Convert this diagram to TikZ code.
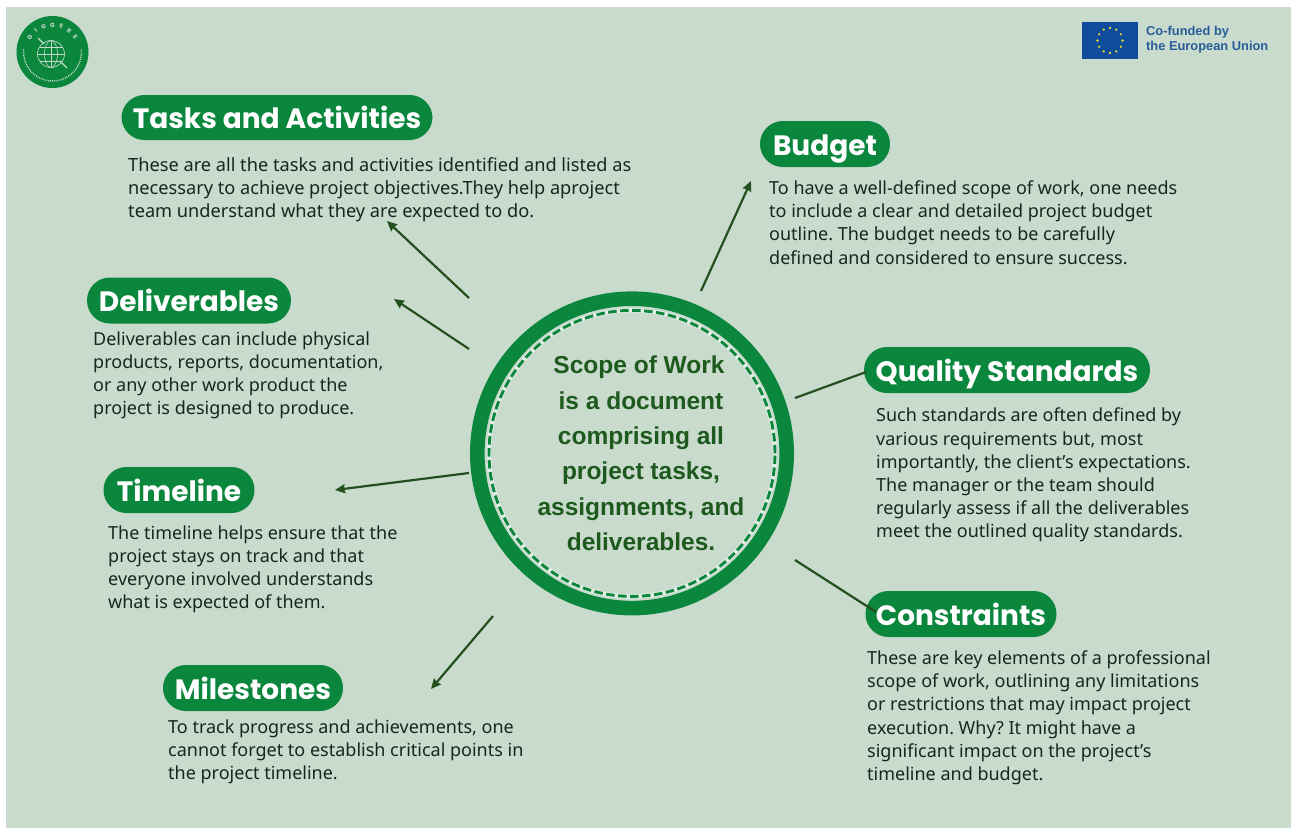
\documentclass[tikz,border=0pt]{standalone}
\usepackage{fontspec}
\setmainfont{Noto Sans}
\newfontfamily\headfont{Poppins}
\newfontfamily\centerfont{Liberation Sans}
\newfontfamily\eufont{Liberation Sans}
\usetikzlibrary{arrows.meta}
\frenchspacing
\definecolor{bgc}{HTML}{C8DBCD}
\definecolor{gr}{HTML}{0B873D}
\definecolor{dk}{HTML}{1E5A1E}
\definecolor{arr}{HTML}{24501F}
\definecolor{body}{HTML}{14281E}
\definecolor{eub}{HTML}{0F4C9E}
\definecolor{euy}{HTML}{E8D82A}
\definecolor{eut}{HTML}{2A5C9A}
\definecolor{halo}{HTML}{E2EDE4}
\tikzset{
 x=1pt,y=-1pt,
 pill/.style={fill=gr,rounded corners=22.9pt,text=white,inner sep=0pt,anchor=center,text height=22pt,text depth=0pt,font=\headfont\fontsize{28}{28}\selectfont\bfseries},
 txt/.style={anchor=north west,align=left,inner sep=0pt,text=body,font=\fontsize{18}{23.2}\selectfont},
 conn/.style={draw=arr,line width=2.2pt,-{Stealth[length=10pt,width=9pt,inset=1pt]}},
 plain/.style={draw=arr,line width=2.2pt}
}
\begin{document}
\begin{tikzpicture}
\useasboundingbox (0,0) rectangle (1291,828);
\fill[white] (0,0) rectangle (1291,828);
\fill[bgc] (6,7) rectangle (1291,828);
% centre
\node[circle,draw=gr,line width=14.6pt,minimum size=309.4pt,inner sep=0pt] (hub) at (632,453.4) {};
\node[circle,draw=halo,line width=4.4pt,minimum size=286pt,inner sep=0pt] (hubh) at (632,453.4) {};
\node[circle,draw=gr,line width=2.9pt,dash pattern=on 8.5pt off 3.5pt,minimum size=286pt,inner sep=0pt] (hubd) at (632,453.4) {};
\node[align=center,inner sep=0pt,text=dk,font=\centerfont\bfseries\fontsize{24.5}{35.4}\selectfont] (hubt) at (641,453.5) {Scope of Work\kern4pt\\is a document\\comprising all\\project tasks,\\assignments, and\\deliverables.};
% pills
\node[pill,minimum width=311pt,minimum height=45pt] (tasks) at (277,117.5) {Tasks and Activities};
\node[pill,minimum width=130pt,minimum height=46pt] (budget) at (825,144) {Budget};
\node[pill,minimum width=204pt,minimum height=46pt] (deliv) at (189,300.5) {Deliverables};
\node[pill,minimum width=286pt,minimum height=46pt] (quality) at (1007,370) {Quality Standards};
\node[pill,minimum width=151pt,minimum height=46pt] (time) at (179,490) {Timeline};
\node[pill,minimum width=191pt,minimum height=46pt] (cons) at (961,614) {Constraints};
\node[pill,minimum width=180pt,minimum height=46pt] (miles) at (253,688) {Milestones};
% texts
\node[txt,font=\fontsize{18.2}{23.2}\selectfont] (t1) at (128,157) {These are all the tasks and activities identified and listed as\\necessary to achieve project objectives.They help aproject\\team understand what they are expected to do.};
\node[txt] (t2) at (769,180.5) {To have a well-defined scope of work, one needs\\to include a clear and detailed project budget\\outline. The budget needs to be carefully\\defined and considered to ensure success.};
\node[txt] (t3) at (93,331.5) {Deliverables can include physical\\products, reports, documentation,\\or any other work product the\\project is designed to produce.};
\node[txt] (t4) at (876,408) {Such standards are often defined by\\various requirements but, most\\importantly, the client’s expectations.\\The manager or the team should\\regularly assess if all the deliverables\\meet the outlined quality standards.};
\node[txt] (t5) at (108,525.5) {The timeline helps ensure that the\\project stays on track and that\\everyone involved understands\\what is expected of them.};
\node[txt] (t6) at (867,650.5) {These are key elements of a professional\\scope of work, outlining any limitations\\or restrictions that may impact project\\execution. Why? It might have a\\significant impact on the project’s\\timeline and budget.};
\node[txt] (t7) at (168,719.5) {To track progress and achievements, one\\cannot forget to establish critical points in\\the project timeline.};
% connector ends
\coordinate (a1) at (469,298); \coordinate (b1) at (387,221);
\coordinate (a2) at (469,349); \coordinate (b2) at (394,299);
\coordinate (a3) at (469,473); \coordinate (b3) at (335,490);
\coordinate (a4) at (493,616); \coordinate (b4) at (431,689);
\coordinate (a5) at (701,291); \coordinate (b5) at (751,181);
\coordinate (a6) at (795,398); \coordinate (b6) at (866,372);
\coordinate (a7) at (795,560); \coordinate (b7) at (876,612);
\draw[conn] (a1) -- (b1);
\draw[conn] (a2) -- (b2);
\draw[conn] (a3) -- (b3);
\draw[conn] (a4) -- (b4);
\draw[conn] (a5) -- (b5);
\draw[plain] (a6) -- (b6);
\draw[plain] (a7) -- (b7);
% logo
\node[circle,fill=gr,minimum size=72pt,inner sep=0pt] (logo) at (52.5,52) {};
\begin{scope}[draw=bgc,line width=.6pt]
\draw (51,54) circle (13.5pt);
\draw (51,54) ellipse (6.5pt and 13.5pt);
\draw (37.5,54) -- (64.5,54) (40,47) -- (62,47) (40,61) -- (62,61) (51,40.5) -- (51,67.5);
\draw[line width=1.4pt] (38,38) -- (44,44);
\draw[line width=1.4pt] (60,61) -- (67,68);
\draw[line width=1.4pt,dash pattern=on .9pt off 1pt] (52.5,52) ++(175:29pt) arc[start angle=175,end angle=365,radius=29pt];
\end{scope}
\foreach \ch/\ang in {G/147,I/128,G/109,G/90,E/71,R/52,S/33}
  \node[rotate=\ang-90,font=\headfont\bfseries\fontsize{6}{6}\selectfont,text=bgc,inner sep=0pt] at ([shift={(\ang:27pt)}]52.5,52) {\ch};
% EU
\node[fill=eub,minimum width=56pt,minimum height=37pt,inner sep=0pt] (flag) at (1110,40.5) {};
\foreach \a in {0,30,...,330}
  \fill[euy,shift={(1110,40.5)}] (\a:12.5) circle (1.3pt);
\node[anchor=west,align=left,inner sep=0pt,text=eut,font=\eufont\bfseries\fontsize{12.85}{15.5}\selectfont] (eu) at (1146,39.5) {Co-funded by\\the European Union};
\end{tikzpicture}
\end{document}
